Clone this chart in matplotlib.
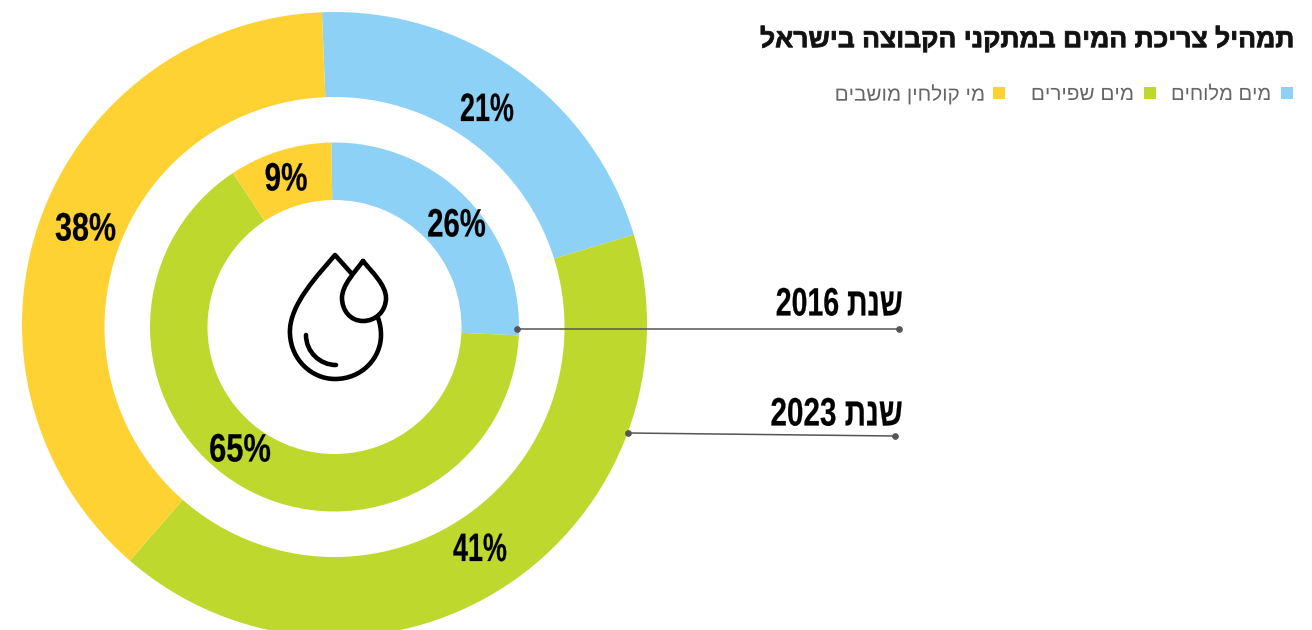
import matplotlib
matplotlib.use("Agg")
import matplotlib.pyplot as plt
import matplotlib.patheffects as pe
from matplotlib.path import Path
from matplotlib.patches import PathPatch, Rectangle, Circle
from matplotlib.transforms import Affine2D

W, H = 1312, 630
title = "תמהיל צריכת המים במתקני הקבוצה בישראל"
categories = ["מים מלוחים", "מים שפירים", "מי קולחין מושבים"]
colors = ["#8DD1F6", "#BFD82E", "#FFD233"]
values_2023 = [21, 41, 38]
values_2016 = [26, 65, 9]
year_labels = ["2016", "2023"]
year_word = "שנת"

def vis(s):
    return s[::-1]

class Condense(pe.AbstractPathEffect):
    """Narrows real text horizontally about its anchor and thickens its strokes."""
    def __init__(self, sx, anchor, stroke=0.0):
        super().__init__()
        self.sx, self.anchor, self.stroke = sx, anchor, stroke

    def draw_path(self, renderer, gc, tpath, affine, rgbFace=None):
        t = affine + Affine2D().translate(-self.anchor, 0).scale(self.sx, 1).translate(self.anchor, 0)
        gc0 = renderer.new_gc()
        gc0.copy_properties(gc)
        gc0.set_linewidth(self.stroke)
        gc0.set_foreground(rgbFace if rgbFace is not None else "black")
        renderer.draw_path(gc0, tpath, t, rgbFace)
        gc0.restore()

fig = plt.figure(figsize=(W / 100, H / 100), dpi=100)
ax = fig.add_axes([0, 0, 1, 1])

def Y(py):
    return H - py

def pct(px, py, sx, v):
    ax.text(px, Y(py), f"{v}%", ha="center", va="center", fontsize=28.5,
            family="Liberation Sans", fontweight="bold", color="black",
            path_effects=[Condense(sx, px, 0.15)], zorder=6)

ax.pie(values_2023, colors=colors, startangle=92.3, counterclock=False,
       center=(334.5, Y(324.5)), radius=312.5, wedgeprops=dict(linewidth=0), frame=True)
ax.add_patch(Circle((334.5, Y(327)), 230, facecolor="white", edgecolor="none", zorder=3))
ax.pie(values_2016, colors=colors, startangle=91, counterclock=False,
       center=(334.5, Y(327)), radius=184.5,
       wedgeprops=dict(width=57.5, linewidth=0, zorder=4), frame=True)
for (px, py, sx), v in zip([(487, 110, 0.68), (480, 550, 0.68), (85.5, 229.5, 0.77)], values_2023):
    pct(px, py, sx, v)
for (px, py, sx), v in zip([(456.5, 225.5, 0.74), (240, 450.5, 0.78), (286, 179.5, 0.75)], values_2016):
    pct(px, py, sx, v)

ax.set_xlim(0, W)
ax.set_ylim(0, H)
ax.set_aspect("auto")
ax.axis("off")

# title and legend
ax.text(1294, Y(39), vis(title), ha="right", va="center", fontsize=19,
        family="Liberation Sans", fontweight="bold", color="#111111",
        path_effects=[Condense(1.004, 1294, 0.6)])
legend_sw = [1281, 1144, 993]
legend_tx = [1271, 1134, 985]
legend_sx = [1.0, 1.03, 1.027]
for sx, tx, c, name, k in zip(legend_sw, legend_tx, colors, categories, legend_sx):
    ax.add_patch(Rectangle((sx, Y(99)), 12, 12, facecolor=c, edgecolor="none"))
    ax.text(tx, Y(94.5), vis(name), ha="right", va="center", fontsize=14.5,
            family="Liberation Sans", color="#666666",
            path_effects=[Condense(k, tx, 0.0)])

# callouts
for y_lab, lab, k, (x0, y0, x1, y1) in zip([304.5, 414.5], year_labels, [0.72, 0.75],
                                           [(517, 329, 899, 329), (628, 433, 895, 436)]):
    ax.plot([x0, x1], [Y(y0), Y(y1)], color="#555555", lw=1.1, marker="o", ms=3.8,
            solid_capstyle="butt", zorder=7)
    ax.text(903, Y(y_lab), lab + " " + vis(year_word), ha="right", va="center", fontsize=28.5,
            family="Liberation Sans", fontweight="bold", color="black",
            path_effects=[Condense(k, 903, 0.15)])

# drop icon
def P(x, y):
    return (x, Y(y))

M, L, C = Path.MOVETO, Path.LINETO, Path.CURVE4
big = [(M, (352, 274)), (L, (335, 255)),
       (C, (320, 273)), (C, (288, 305)), (C, (290, 334)),
       (C, (291, 360)), (C, (312, 379)), (C, (335, 379)),
       (C, (362, 379)), (C, (381, 358)), (C, (381, 335)),
       (C, (381, 329)), (C, (380, 323)), (C, (378, 318))]
small = [(M, (363, 261)),
         (C, (372, 272)), (C, (386, 285)), (C, (386, 298)),
         (C, (386, 311)), (C, (376, 321)), (C, (363, 321)),
         (C, (350, 321)), (C, (342, 310)), (C, (342, 298)),
         (C, (342, 285)), (C, (355, 272)), (C, (363, 261))]
shine = [(M, (306, 335)), (C, (306, 352)), (C, (320, 365)), (C, (336, 365))]
for seg in (big, small, shine):
    path = Path([P(*p) for _, p in seg], [c for c, _ in seg])
    ax.add_patch(PathPatch(path, facecolor="none", edgecolor="black", lw=3.3,
                           capstyle="round", joinstyle="round", zorder=5))

fig.savefig("out.png", dpi=100, facecolor="white")
